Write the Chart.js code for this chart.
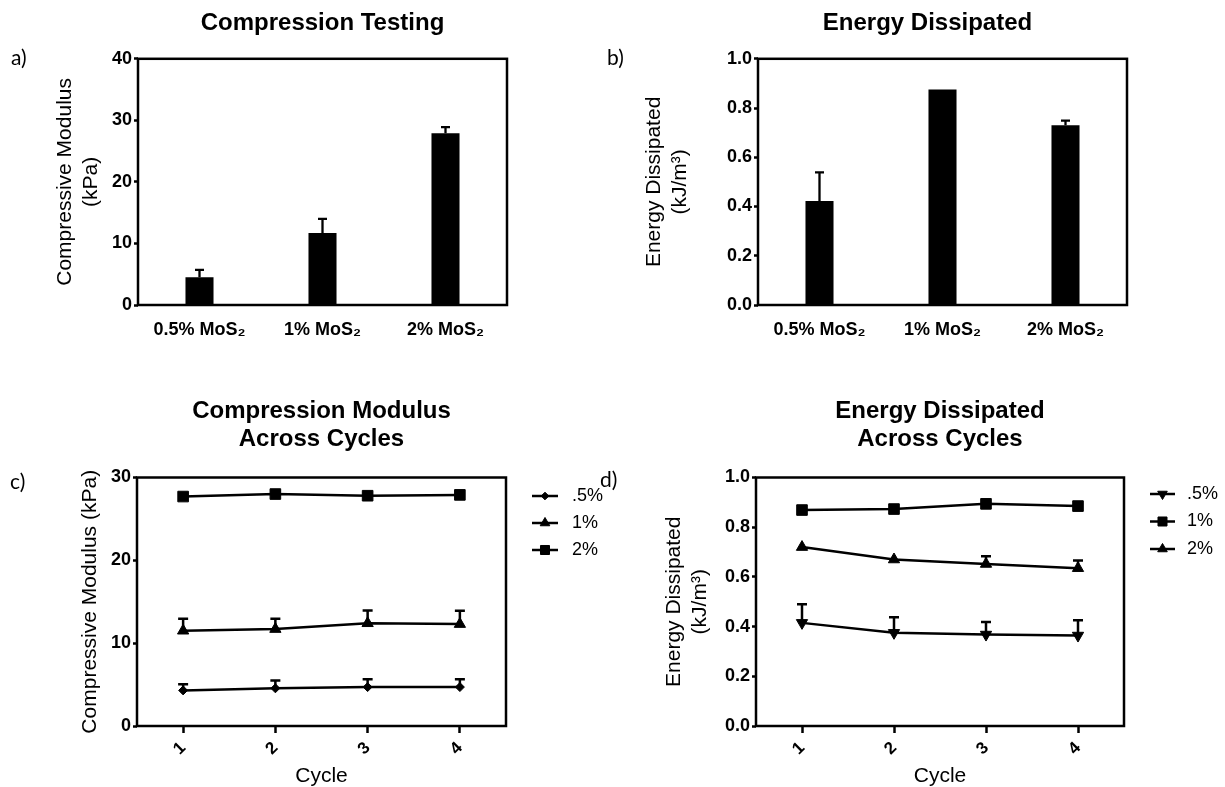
<!DOCTYPE html>
<html>
<head>
<meta charset="utf-8">
<script src="https://cdn.jsdelivr.net/npm/chart.js@4.4.1/dist/chart.umd.min.js"></script>
<style>
  html, body { margin: 0; padding: 0; background: #fff; overflow: hidden; }
  #page { position: relative; width: 1225px; height: 787px; }
  #page canvas { position: absolute; }
  .tag { position: absolute; font-family: Lato, "Open Sans", sans-serif; font-size: 21px; line-height: 22px; color: #000; }
</style>
</head>
<body>
<div id="page">
  <canvas id="chartA" width="600" height="345" style="left:0px;top:0px"></canvas>
  <canvas id="chartB" width="625" height="345" style="left:600px;top:0px"></canvas>
  <canvas id="chartC" width="610" height="417" style="left:0px;top:370px"></canvas>
  <canvas id="chartD" width="570" height="417" style="left:655px;top:370px"></canvas>
  <div class="tag" style="left:11px;top:46px">a)</div>
  <div class="tag" style="left:607px;top:46px">b)</div>
  <div class="tag" style="left:10px;top:470px">c)</div>
  <div class="tag" style="left:600px;top:468px">d)</div>
</div>
<script>
// bar panels (a, b)
const barLabels = ['0.5% MoS₂', '1% MoS₂', '2% MoS₂'];
const modulusMean = [4.5, 11.7, 27.9];
const modulusErr = [1.2, 2.3, 1.0];
const energyMean = [0.422, 0.875, 0.730];
const energyErr = [0.117, 0, 0.019];

// cycle panels (c, d)
const cycles = ['1', '2', '3', '4'];
const modCycle05 = [4.3, 4.55, 4.7, 4.7];
const modCycle05Err = [0.75, 0.95, 0.95, 0.95];
const modCycle1 = [11.5, 11.7, 12.4, 12.3];
const modCycle1Err = [1.45, 1.25, 1.55, 1.6];
const modCycle2 = [27.7, 28.0, 27.8, 27.9];
const modCycle2Err = [0.3, 0.3, 0.3, 0.3];
const enCycle05 = [0.415, 0.375, 0.368, 0.364];
const enCycle05Err = [0.075, 0.063, 0.051, 0.062];
const enCycle1 = [0.869, 0.873, 0.894, 0.885];
const enCycle1Err = [0.008, 0.008, 0.008, 0.008];
const enCycle2 = [0.720, 0.670, 0.652, 0.635];
const enCycle2Err = [0, 0, 0.031, 0.031];

// tick values
const modTicks = [0, 10, 20, 30, 40];
const modCycleTicks = [0, 10, 20, 30];
const energyTicks = [0, 0.2, 0.4, 0.6, 0.8, 1.0];

Chart.defaults.font.family = '"Liberation Sans", Arial, Helvetica, sans-serif';
Chart.defaults.color = '#000';

// box around the plot area
const framePlugin = {
    id: 'frame',
    beforeDatasetsDraw(chart, args, opts) {
        const { ctx, chartArea: a } = chart;
        ctx.save();
        ctx.strokeStyle = '#000';
        ctx.lineWidth = opts.lineWidth;
        ctx.strokeRect(a.left, a.top, a.right - a.left, a.bottom - a.top);
        ctx.restore();
    }
};

// upper error bars, taken from dataset.errUp
const errorBarPlugin = {
    id: 'errorBars',
    beforeDatasetsDraw(chart, args, opts) {
        const ctx = chart.ctx;
        const yScale = chart.scales.y;
        ctx.save();
        ctx.strokeStyle = '#000';
        ctx.lineWidth = opts.lineWidth;
        chart.data.datasets.forEach((ds, di) => {
            if (!ds.errUp) return;
            const meta = chart.getDatasetMeta(di);
            meta.data.forEach((el, i) => {
                const err = ds.errUp[i];
                if (!err) return;
                const y0 = yScale.getPixelForValue(ds.data[i]);
                const y1 = yScale.getPixelForValue(ds.data[i] + err);
                ctx.beginPath();
                ctx.moveTo(el.x, y0);
                ctx.lineTo(el.x, y1);
                ctx.moveTo(el.x - opts.capWidth / 2, y1);
                ctx.lineTo(el.x + opts.capWidth / 2, y1);
                ctx.stroke();
            });
        });
        ctx.restore();
    }
};

// legend with line + marker, placed at the right of the plot
const sideLegendPlugin = {
    id: 'sideLegend',
    afterDraw(chart, args, opts) {
        if (!opts.display) return;
        const ctx = chart.ctx;
        ctx.save();
        chart.data.datasets.forEach((ds, i) => {
            const y = opts.top + i * opts.rowGap;
            ctx.strokeStyle = '#000';
            ctx.fillStyle = '#000';
            ctx.lineWidth = opts.lineWidth;
            ctx.beginPath();
            ctx.moveTo(opts.lineLeft, y);
            ctx.lineTo(opts.lineLeft + opts.lineLength, y);
            ctx.stroke();
            ctx.lineWidth = 1;
            Chart.helpers.drawPoint(ctx, {
                pointStyle: ds.pointStyle,
                radius: ds.pointRadius * 0.85,
                rotation: ds.pointRotation || 0,
                borderWidth: 1
            }, opts.lineLeft + opts.lineLength / 2, y);
            ctx.font = opts.fontSize + 'px ' + Chart.defaults.font.family;
            ctx.textBaseline = 'middle';
            ctx.textAlign = 'left';
            ctx.fillText(ds.label, opts.textLeft, y);
        });
        ctx.restore();
    }
};

// nudge the chart title sideways
const titleShiftPlugin = {
    id: 'titleShift',
    afterLayout(chart, args, opts) {
        const t = chart.titleBlock;
        if (t && opts.shift) {
            t.left += opts.shift;
            t.right += opts.shift;
        }
    }
};

function yAxis(tickList, fmt, titleText, titlePad, width) {
    return {
        type: 'linear',
        min: tickList[0],
        max: tickList[tickList.length - 1],
        afterBuildTicks: s => { s.ticks = tickList.map(v => ({ value: v })); },
        afterFit: s => { s.width = width; },
        border: { display: false },
        grid: { drawOnChartArea: false, drawTicks: true, tickLength: 4, tickWidth: 2.5, tickColor: '#000' },
        ticks: { padding: 2, font: { size: 18, weight: 'bold' }, callback: fmt },
        title: { display: true, text: titleText, font: { size: 21, lineHeight: 1.25 }, padding: { top: titlePad, bottom: 0 } }
    };
}

function chartTitle(text, padTop, padBottom) {
    return {
        display: true,
        text: text,
        fullSize: false,
        color: '#000',
        font: { size: 24, weight: 'bold', lineHeight: Array.isArray(text) ? 1.15 : 1.2 },
        padding: { top: padTop, bottom: padBottom }
    };
}

function makeBarChart(id, values, errs, title, titleShift, yTicks, fmt, yTitle, yTitlePad, yWidth, padRight) {
    return new Chart(document.getElementById(id), {
        type: 'bar',
        data: {
            labels: barLabels,
            datasets: [{
                data: values,
                errUp: errs,
                backgroundColor: '#000',
                borderWidth: 0,
                barPercentage: 0.228,
                categoryPercentage: 1
            }]
        },
        options: {
            responsive: false,
            animation: false,
            layout: { padding: { left: 0, right: padRight, top: 0, bottom: 0 } },
            plugins: {
                legend: { display: false },
                tooltip: { enabled: false },
                title: chartTitle(title, 9, 21),
                titleShift: { shift: titleShift },
                errorBars: { capWidth: 9, lineWidth: 2.3 },
                frame: { lineWidth: 2.5 },
                sideLegend: { display: false }
            },
            scales: {
                x: {
                    afterFit: s => { s.height = 40; },
                    border: { display: false },
                    grid: { display: false },
                    ticks: { padding: 6, autoSkip: false, maxRotation: 0, font: { size: 18, weight: 'bold' } }
                },
                y: yAxis(yTicks, fmt, yTitle, yTitlePad, yWidth)
            }
        },
        plugins: [framePlugin, errorBarPlugin, sideLegendPlugin, titleShiftPlugin]
    });
}

function lineSet(label, values, errs, style, radius, rotation) {
    return {
        label: label,
        data: values,
        errUp: errs,
        borderColor: '#000',
        backgroundColor: '#000',
        borderWidth: 2.5,
        tension: 0,
        pointStyle: style,
        pointRadius: radius,
        pointRotation: rotation,
        pointBorderWidth: 1
    };
}

function makeCycleChart(id, datasets, title, yTicks, fmt, yTitle, yTitlePad, yWidth, padRight, legendOpts) {
    return new Chart(document.getElementById(id), {
        type: 'line',
        data: { labels: cycles, datasets: datasets },
        options: {
            responsive: false,
            animation: false,
            layout: { padding: { left: 0, right: padRight, top: 0, bottom: 0 } },
            plugins: {
                legend: { display: false },
                tooltip: { enabled: false },
                title: chartTitle(title, 28, 24.3),
                titleShift: { shift: 0 },
                errorBars: { capWidth: 10, lineWidth: 2.5 },
                frame: { lineWidth: 2.5 },
                sideLegend: legendOpts
            },
            scales: {
                x: {
                    offset: true,
                    afterFit: s => { s.height = 61; },
                    border: { display: false },
                    grid: { drawOnChartArea: false, offset: false, tickLength: 7, tickWidth: 2.5, tickColor: '#000' },
                    ticks: { padding: 5, minRotation: 45, maxRotation: 45, font: { size: 17, weight: 'bold' } },
                    title: { display: true, text: 'Cycle', font: { size: 21, lineHeight: 1 }, padding: { top: 0, bottom: 0 } }
                },
                y: yAxis(yTicks, fmt, yTitle, yTitlePad, yWidth)
            }
        },
        plugins: [framePlugin, errorBarPlugin, sideLegendPlugin, titleShiftPlugin]
    });
}

// a) compression testing
makeBarChart('chartA', modulusMean, modulusErr, 'Compression Testing', 0,
    modTicks, v => v, ['Compressive Modulus', '(kPa)'], 52, 138, 93);

// b) energy dissipated
makeBarChart('chartB', energyMean, energyErr, 'Energy Dissipated', -15,
    energyTicks, v => v.toFixed(1), ['Energy Dissipated', '(kJ/m³)'], 41, 158, 98);

// c) modulus across cycles
makeCycleChart('chartC', [
    lineSet('.5%', modCycle05, modCycle05Err, 'rectRot', 4.5, 0),
    lineSet('1%', modCycle1, modCycle1Err, 'triangle', 6.5, 0),
    lineSet('2%', modCycle2, modCycle2Err, 'rect', 7.5, 0)
], ['Compression Modulus', 'Across Cycles'], modCycleTicks, v => v,
    'Compressive Modulus (kPa)', 77, 137, 104,
    { display: true, top: 126, rowGap: 27, lineLeft: 532, lineLength: 26, textLeft: 572, lineWidth: 2.5, fontSize: 18 });

// d) energy across cycles
makeCycleChart('chartD', [
    lineSet('.5%', enCycle05, enCycle05Err, 'triangle', 6.5, 180),
    lineSet('1%', enCycle1, enCycle1Err, 'rect', 7.5, 0),
    lineSet('2%', enCycle2, enCycle2Err, 'triangle', 6.5, 0)
], ['Energy Dissipated', 'Across Cycles'], energyTicks, v => v.toFixed(1),
    ['Energy Dissipated', '(kJ/m³)'], 6, 101, 101,
    { display: true, top: 124, rowGap: 27.5, lineLeft: 495, lineLength: 25, textLeft: 532, lineWidth: 2.5, fontSize: 18 });
</script>
</body>
</html>
